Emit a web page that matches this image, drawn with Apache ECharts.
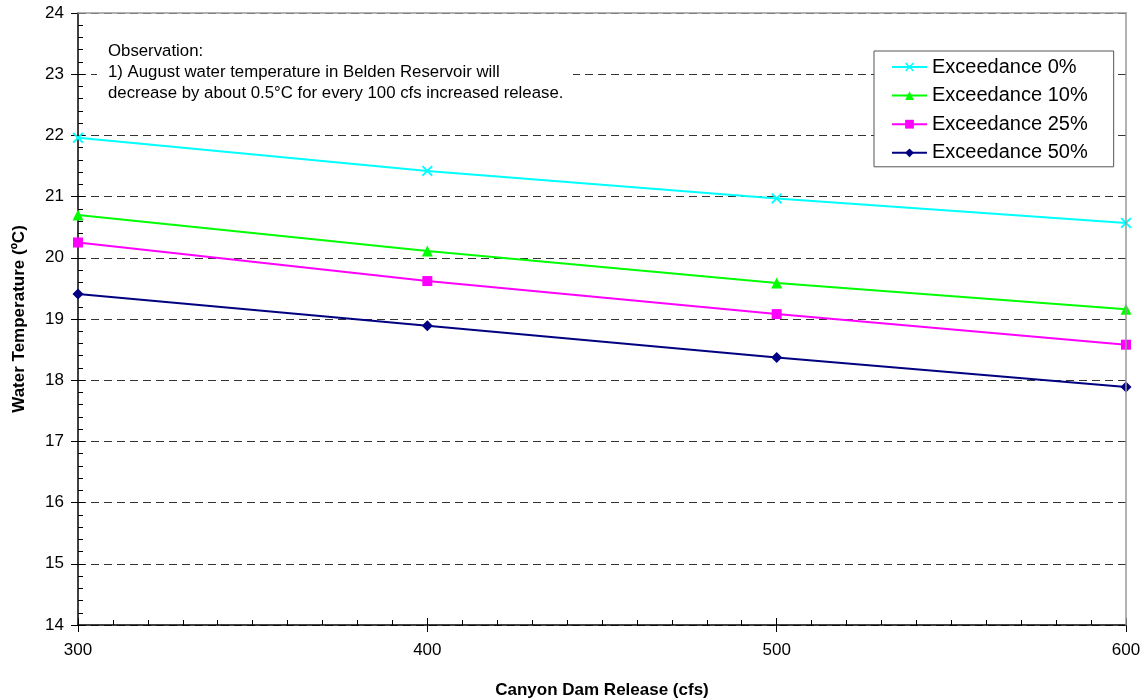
<!DOCTYPE html>
<html>
<head>
<meta charset="utf-8">
<script src="https://cdn.jsdelivr.net/npm/echarts@6/dist/echarts.min.js"></script>
<style>
html,body{margin:0;padding:0;background:#fff;}
#c{width:1147px;height:700px;}
</style>
</head>
<body>
<div id="c"></div>
<script>
var releases = [300, 400, 500, 600];
var exc0  = [21.96, 21.42, 20.97, 20.57];
var exc10 = [20.70, 20.11, 19.59, 19.16];
var exc25 = [20.25, 19.62, 19.08, 18.58];
var exc50 = [19.41, 18.89, 18.37, 17.89];
var seriesNames = ['Exceedance 0%', 'Exceedance 10%', 'Exceedance 25%', 'Exceedance 50%'];
var noteLines = ['Observation:', '1) August water temperature in Belden Reservoir will', 'decrease by about 0.5\u00B0C for every 100 cfs increased release.'];

var FONT = '"Liberation Sans", Arial, sans-serif';
var xSym = 'path://M0,1.2 L1.2,0 L5,3.8 L8.8,0 L10,1.2 L6.2,5 L10,8.8 L8.8,10 L5,6.2 L1.2,10 L0,8.8 L3.8,5 Z';

function pairs(vals){ return releases.map(function(r,i){ return [r, vals[i]]; }); }
function mk(name, vals, color, symbol, size){
  return {
    name: name, type: 'line', data: pairs(vals),
    xAxisIndex: 0, yAxisIndex: 0,
    symbol: symbol, symbolSize: size, showSymbol: true,
    lineStyle: {color: color, width: 2},
    itemStyle: {color: color},
    emphasis: {disabled: true},
    z: 3
  };
}

var chart = echarts.init(document.getElementById('c'), null, {renderer: 'canvas'});
chart.setOption({
  animation: false,
  backgroundColor: '#fff',
  textStyle: {fontFamily: FONT},
  grid: {left: 78, right: 21, top: 13, bottom: 75, containLabel: false, outerBoundsMode: 'none'},
  xAxis: [
    {type: 'value', min: 300, max: 600, interval: 100, position: 'bottom',
     name: 'Canyon Dam Release (cfs)', nameLocation: 'middle', nameGap: 57,
     nameTextStyle: {fontFamily: FONT, fontSize: 17, fontWeight: 'bold', color: '#000'},
     axisLine: {show: true, lineStyle: {color: '#000', width: 1.5}},
     axisTick: {show: true, inside: true, length: 7, lineStyle: {color: '#000', width: 1}},
     minorTick: {show: true, splitNumber: 10, length: 5, lineStyle: {color: '#000', width: 1}},
     axisLabel: {fontFamily: FONT, fontSize: 17, color: '#000', margin: 17},
     splitLine: {show: false}},
    {type: 'value', min: 300, max: 600, interval: 100, position: 'bottom',
     axisLine: {show: false},
     axisTick: {show: true, inside: false, length: 7, lineStyle: {color: '#000', width: 1}},
     axisLabel: {show: false}, splitLine: {show: false}},
    {type: 'value', min: 300, max: 600, interval: 100, position: 'top', z: 5,
     axisLine: {show: true, lineStyle: {color: '#999', width: 1.5}},
     axisTick: {show: false}, axisLabel: {show: false}, splitLine: {show: false}}
  ],
  yAxis: [
    {type: 'value', min: 14, max: 24, interval: 1, position: 'left',
     name: 'Water Temperature (\u00BAC)', nameLocation: 'middle', nameGap: 50, nameRotate: 90,
     nameTextStyle: {fontFamily: FONT, fontSize: 17, fontWeight: 'bold', color: '#000'},
     axisLine: {show: true, lineStyle: {color: '#000', width: 1.5}},
     axisTick: {show: true, inside: true, length: 7, lineStyle: {color: '#000', width: 1}},
     minorTick: {show: true, splitNumber: 5, length: 5, lineStyle: {color: '#000', width: 1}},
     axisLabel: {fontFamily: FONT, fontSize: 17, color: '#000', margin: 14},
     splitLine: {show: true, lineStyle: {color: '#333', width: 1, type: [8, 5]}}},
    {type: 'value', min: 14, max: 24, interval: 1, position: 'left',
     axisLine: {show: false},
     axisTick: {show: true, inside: false, length: 7, lineStyle: {color: '#000', width: 1}},
     axisLabel: {show: false}, splitLine: {show: false}},
    {type: 'value', min: 14, max: 24, interval: 1, position: 'right', z: 5,
     axisLine: {show: true, lineStyle: {color: '#999', width: 1.5}},
     axisTick: {show: false}, axisLabel: {show: false}, splitLine: {show: false}}
  ],
  legend: {
    orient: 'vertical', left: 874, top: 51,
    data: seriesNames,
    backgroundColor: '#fff', borderColor: '#555', borderWidth: 1, borderRadius: 0,
    padding: [6, 26, 4, 17],
    itemWidth: 35, itemHeight: 11, itemGap: 8.6,
    textStyle: {fontFamily: FONT, fontSize: 20, color: '#000', lineHeight: 20},
    z: 10
  },
  graphic: [
    {type: 'rect', left: 97, top: 32, shape: {width: 476, height: 72},
     style: {fill: '#fff'}, z: 2, silent: true},
    {type: 'text', left: 108, top: 40.5, z: 3, silent: true,
     style: {text: noteLines.join('\n'), font: '16.8px ' + FONT, fill: '#000', lineHeight: 21}}
  ],
  series: [
    mk(seriesNames[0], exc0, '#00FFFF', xSym, 11),
    mk(seriesNames[1], exc10, '#00FF00', 'triangle', 11),
    mk(seriesNames[2], exc25, '#FF00FF', 'rect', 10),
    mk(seriesNames[3], exc50, '#000080', 'diamond', 11)
  ]
});
</script>
</body>
</html>
